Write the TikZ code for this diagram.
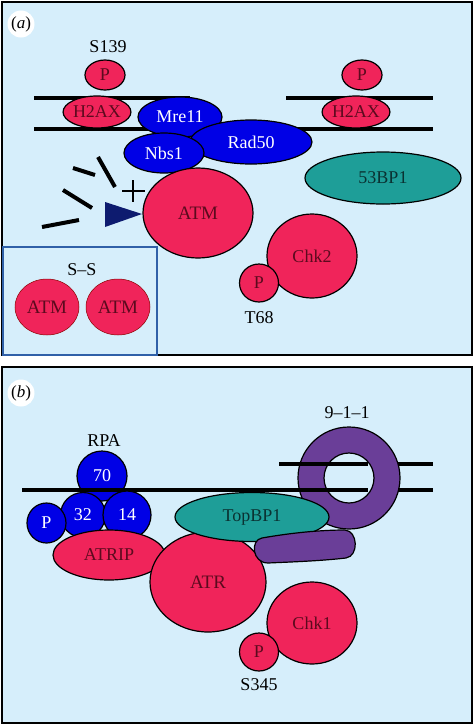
\documentclass[tikz,border=0pt]{standalone}
\usepackage{fontspec}
\setmainfont{Liberation Serif}
\usetikzlibrary{shapes.geometric}
\definecolor{bgblue}{RGB}{214,238,251}
\definecolor{pinkred}{RGB}{240,36,90}
\definecolor{darkred}{RGB}{92,10,30}
\definecolor{mrnblue}{RGB}{0,0,230}
\definecolor{tealbp}{RGB}{30,158,152}
\definecolor{tealtext}{RGB}{10,50,50}
\definecolor{ringpurple}{RGB}{106,62,152}
\definecolor{navy}{RGB}{13,27,111}
\definecolor{insetblue}{RGB}{48,96,168}
\tikzset{
	blob/.style={ellipse, draw=black, line width=1.2pt, inner sep=0pt, font=\fontsize{18}{18}\selectfont},
	redblob/.style={blob, fill=pinkred, text=darkred},
	blueblob/.style={blob, fill=mrnblue, text=white},
	tealblob/.style={blob, fill=tealbp, text=tealtext},
	ellsize/.style 2 args={minimum width=#1, minimum height=#2},
	dna/.style={line width=4pt},
	tick/.style={line width=4pt},
	lbl/.style={font=\fontsize{18}{18}\selectfont},
	tag/.style={circle, fill=white, inner sep=0pt, minimum size=27pt, font=\fontsize{17}{17}\selectfont},
	panel/.style={fill=bgblue, draw=black, line width=2pt},
}

\begin{document}
\begin{tikzpicture}[x=1pt, y=-1pt]
			%%%%% START %%%%%
			\useasboundingbox (0, 0) rectangle (474, 724);
			
			%%%%% PANEL A %%%%%
			\draw[panel] (1.5, 1.5) rectangle (471.5, 355);
			\node[tag] (tagA) at (21, 24) {(\textit{a})};
			
			\draw[dna] (34, 98) -- (190, 98);
			\draw[dna] (286, 98) -- (433, 98);
			\draw[dna] (34, 129) -- (433, 129);
			
			\node[redblob, ellsize={62pt}{32pt}] (h2axL) at (97, 112) {H2AX};
			\node[redblob, ellsize={40pt}{30pt}] (pL) at (105, 75) {P};
			\node[redblob, ellsize={64pt}{32pt}] (h2axR) at (356, 112) {H2AX};
			\node[redblob, ellsize={40pt}{30pt}] (pR) at (362, 75) {P};
			\node[lbl] (s139) at (108, 47) {S139};
			
			\node[blueblob, ellsize={84pt}{40pt}] (mre) at (180, 117) {Mre11};
			\node[blueblob, ellsize={122pt}{44pt}] (rad) at (251, 142) {Rad50};
			\node[blueblob, ellsize={80pt}{40pt}] (nbs) at (164, 153) {Nbs1};
			
			\node[redblob, ellsize={110pt}{90pt}, font=\fontsize{19}{19}\selectfont] (atm) at (198, 213) {ATM};
			\node[tealblob, ellsize={156pt}{52pt}] (bp) at (383, 178) {53BP1};
			\node[redblob, ellsize={90pt}{84pt}] (chk2) at (312, 256) {Chk2};
			\node[redblob, ellsize={39pt}{38pt}] (pT) at (259, 283) {P};
			\node[lbl] (t68) at (259, 318) {T68};
			
			% damage and activation
			\draw[tick] (42, 227) -- (79, 220);
			\draw[tick] (63, 190) -- (92, 208);
			\draw[tick] (73, 168) -- (95, 175);
			\draw[tick] (98, 157) -- (115, 187);
			\draw[line width=2.2pt] (122, 191) -- (145, 191);
			\draw[line width=2.2pt] (133, 180) -- (133, 202);
			\fill[navy] (105, 202) -- (142, 214) -- (105, 227) -- cycle;
			
			% inset
			\draw[insetblue, line width=2pt] (2.5, 247) rectangle (157, 354.5);
			\node[lbl] (ss) at (82, 270) {S--S};
			\node[redblob, draw=red!55!black, line width=0.5pt, ellsize={64pt}{56pt}, font=\fontsize{19}{19}\selectfont] (atm1) at (47, 307) {ATM};
			\node[redblob, draw=red!55!black, line width=0.5pt, ellsize={64pt}{56pt}, font=\fontsize{19}{19}\selectfont] (atm2) at (118, 307) {ATM};
			
			%%%%% PANEL B %%%%%
			\draw[panel] (1.5, 367) rectangle (471.5, 722.5);
			\node[tag] (tagB) at (21, 393) {(\textit{b})};
			
			\fill[ringpurple, draw=black, line width=1.2pt, even odd rule] (349, 478) circle (51pt) (349, 478) circle (25pt);
			\node[lbl] (nine) at (347, 413) {9--1--1};
			
			\node[blueblob, ellsize={50pt}{50pt}] (r70) at (102, 476) {70};
			\draw[dna] (279, 464) -- (368, 464);
			\draw[dna] (398, 464) -- (433, 464);
			\draw[dna] (22, 490) -- (368, 490);
			\draw[dna] (398, 490) -- (433, 490);
			\node[lbl] (rpa) at (104, 441) {RPA};
			\node[blueblob, ellsize={45pt}{45pt}] (r32) at (83, 515) {32};
			\node[blueblob, ellsize={48pt}{48pt}] (r14) at (127, 515) {14};
			\node[blueblob, ellsize={39pt}{40pt}] (rP) at (46.5, 523) {P};
			
			\node[redblob, ellsize={112pt}{50pt}] (atrip) at (109, 555) {ATRIP};
			\node[redblob, ellsize={116pt}{100pt}, font=\fontsize{19}{19}\selectfont] (atr) at (208, 582) {ATR};
			\node[tealblob, ellsize={154pt}{49pt}] (topbp) at (252, 517) {TopBP1};
			\draw[fill=ringpurple, line width=1.2pt] (262, 538) .. controls (290, 533) and (320, 530) .. (345, 530)
				.. controls (358, 531) and (359, 556) .. (346, 558)
				.. controls (320, 561) and (290, 562) .. (268, 563)
				.. controls (252, 563) and (250, 540) .. (262, 538) -- cycle;
			
			\node[redblob, ellsize={90pt}{82pt}] (chk1) at (312, 623) {Chk1};
			\node[redblob, ellsize={39pt}{38pt}] (pS) at (259, 652) {P};
			\node[lbl] (s345) at (259, 685) {S345};
			%%%%% END %%%%%
\end{tikzpicture}
\end{document}
